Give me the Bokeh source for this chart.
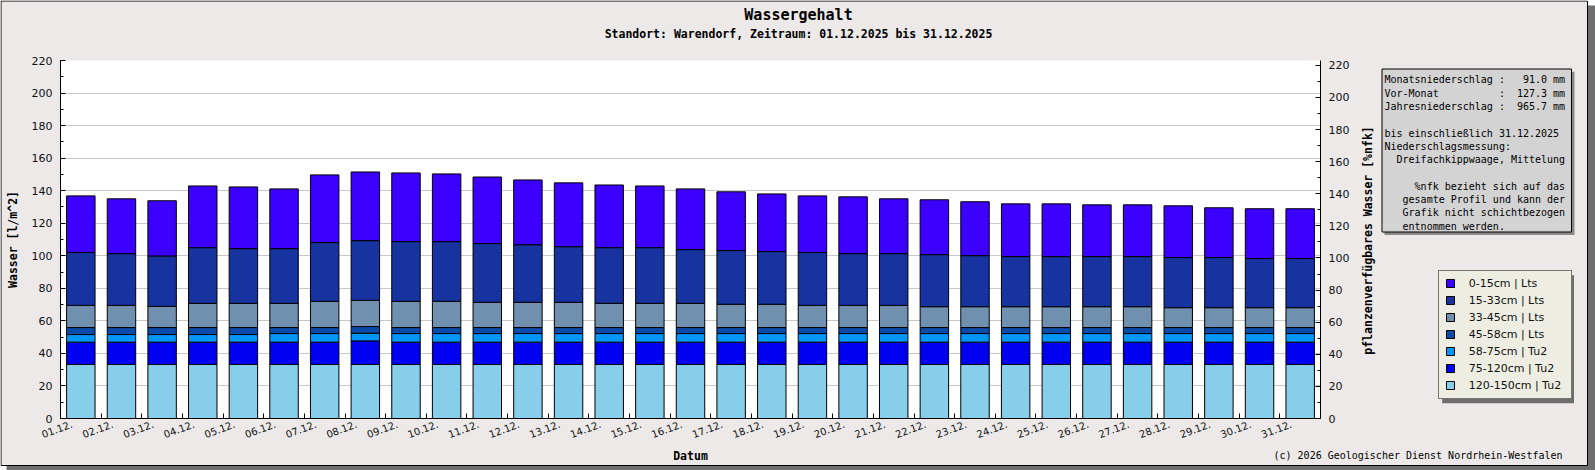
import re
from math import pi
from bokeh.plotting import figure
from bokeh.models import (ColumnDataSource, Range1d, LinearAxis, FixedTicker,
                          SingleIntervalTicker, Legend, LegendItem, Label, BoxAnnotation)
from bokeh.embed import file_html
from bokeh.resources import INLINE

# ---------------- data ----------------
dates = ["01.12.", "02.12.", "03.12.", "04.12.", "05.12.", "06.12.", "07.12.", "08.12.",
         "09.12.", "10.12.", "11.12.", "12.12.", "13.12.", "14.12.", "15.12.", "16.12.",
         "17.12.", "18.12.", "19.12.", "20.12.", "21.12.", "22.12.", "23.12.", "24.12.",
         "25.12.", "26.12.", "27.12.", "28.12.", "29.12.", "30.12.", "31.12."]

layer_names = ["0-15cm | Lts", "15-33cm | Lts", "33-45cm | Lts", "45-58cm | Lts",
               "58-75cm | Tu2", "75-120cm | Tu2", "120-150cm | Tu2"]
layer_colors = ["#3C00FF", "#1633A0", "#7090B0", "#0A4AA8", "#0096FF", "#0000F0", "#87CEEB"]

w_0_15 = [34.8, 33.7, 33.9, 37.9, 37.9, 36.7, 41.6, 42.2, 42.2, 41.6, 40.9, 39.8, 39.2, 38.5,
          37.9, 37.3, 36.1, 35.4, 34.8, 34.9, 33.7, 33.7, 33.1, 32.4, 32.4, 31.8, 31.8, 31.8,
          30.6, 30.6, 30.6]
w_15_33 = [32.5, 31.8, 31.0, 34.2, 33.6, 33.6, 36.1, 36.7, 36.7, 36.7, 36.1, 35.4, 34.2, 34.2,
           34.2, 33.0, 33.0, 32.4, 32.5, 31.8, 31.8, 32.0, 31.4, 30.8, 30.8, 30.8, 30.8, 30.8,
           30.8, 30.2, 30.2]
w_33_45 = [13.6, 13.6, 13.0, 14.9, 14.9, 14.9, 16.1, 16.1, 16.1, 16.1, 15.5, 15.5, 15.5, 14.9,
           14.9, 14.9, 14.3, 14.3, 13.6, 13.6, 13.6, 12.8, 12.8, 12.8, 12.8, 12.8, 12.8, 12.2,
           12.2, 12.2, 12.2]
w_45_58 = [4.3, 4.3, 4.3, 4.3, 4.3, 3.7, 3.7, 4.1, 3.7, 3.7, 3.7, 3.7, 3.7, 3.7, 3.7, 3.7,
           3.7, 3.7, 3.7, 3.7, 3.7, 3.7, 3.7, 3.7, 3.7, 3.7, 3.7, 3.7, 3.7, 3.7, 3.7]
w_58_75 = [4.7, 4.7, 4.7, 4.7, 4.7, 5.3, 5.3, 4.7, 5.3, 5.3, 5.3, 5.3, 5.3, 5.3, 5.3, 5.3,
           5.3, 5.3, 5.3, 5.3, 5.3, 5.3, 5.3, 5.3, 5.3, 5.3, 5.3, 5.3, 5.3, 5.3, 5.3]
w_75_120 = [13.7, 13.7, 13.7, 13.7, 13.7, 13.7, 13.7, 14.5, 13.7, 13.7, 13.7, 13.7, 13.7, 13.7,
            13.7, 13.7, 13.7, 13.7, 13.7, 13.7, 13.7, 13.7, 13.7, 13.7, 13.7, 13.7, 13.7, 13.7,
            13.7, 13.7, 13.7]
w_120_150 = [33.2, 33.2, 33.2, 33.2, 33.2, 33.2, 33.2, 33.2, 33.2, 33.2, 33.2, 33.2, 33.2, 33.2,
             33.2, 33.2, 33.2, 33.2, 33.2, 33.2, 33.2, 33.2, 33.2, 33.2, 33.2, 33.2, 33.2, 33.2,
             33.2, 33.2, 33.2]

info_lines = [
    "Monatsniederschlag :   91.0 mm",
    "Vor-Monat          :  127.3 mm",
    "Jahresniederschlag :  965.7 mm",
    "",
    "bis einschließlich 31.12.2025",
    "Niederschlagsmessung:",
    "  Dreifachkippwaage, Mittelung",
    "",
    "     %nfk bezieht sich auf das",
    "   gesamte Profil und kann der",
    "   Grafik nicht schichtbezogen",
    "   entnommen werden.",
]

title_text = "Wassergehalt"
subtitle_text = "Standort: Warendorf, Zeitraum: 01.12.2025 bis 31.12.2025"
copyright_text = "(c) 2026 Geologischer Dienst Nordrhein-Westfalen"
y_left_label = "Wasser [l/m^2]"
y_right_label = "pflanzenverfügbares Wasser [%nfk]"
x_label = "Datum"

MONO = "DejaVu Sans Mono"
SANS = "DejaVu Sans"
BG = "#ECE9E8"

keys = ["l0", "l1", "l2", "l3", "l4", "l5", "l6"]
series = [w_0_15, w_15_33, w_33_45, w_45_58, w_58_75, w_75_120, w_120_150]
data = {"x": [i + 1 for i in range(len(dates))], "date": dates}
for k, s in zip(keys, series):
    data[k] = s
src = ColumnDataSource(data)

# ---------------- background / decoration layer (pixel coordinates) ----------------
W, H = 1595, 470
bg = figure(width=W, height=H, x_range=Range1d(0, W), y_range=Range1d(H, 0),
            x_axis_type=None, y_axis_type=None, output_backend="svg",
            toolbar_location=None, min_border=0, background_fill_color="white",
            border_fill_color="white", outline_line_color=None)


def box(l, r, t, b, fill, line=None):
    bg.add_layout(BoxAnnotation(left=l, right=r, top=t, bottom=b,
                                fill_color=fill, fill_alpha=1.0,
                                line_color=line, line_alpha=1.0 if line else 0.0,
                                line_width=1))


def lab(x, y, text, size, bold=False, align="left", angle=0.0, font=MONO):
    bg.add_layout(Label(x=x, y=y, text=text, text_font=font, text_font_size=size,
                        text_font_style="bold" if bold else "normal",
                        text_align=align, text_baseline="middle", text_color="black",
                        angle=angle))


box(6, 1595, 5, 470, "#6E6E6E")                 # outer drop shadow
box(0.5, 1587, 0.5, 465, BG, "black")          # outer frame
box(1384, 1574, 71.3, 234.5, "#8A8A8A")         # info box shadow
box(1381.5, 1571, 68.5, 231.5, "#D3D3D3", "black")
box(1441.7, 1573.5, 274.7, 402.7, "#6E6E6E")    # legend shadow

lab(798, 14, title_text, "15px", bold=True, align="center")
lab(798, 33.3, subtitle_text, "11.5px", bold=True, align="center")
lab(1562, 455, copyright_text, "10px", align="right")
lab(1367, 240, y_right_label, "11.5px", bold=True, align="center", angle=pi / 2)
for k, line in enumerate(info_lines):
    if not line:
        continue
    txt = re.sub(r" {2,}", lambda m: "\u00a0" * len(m.group()), line)
    lab(1384, 79.3 + 13.3 * k, txt, "10px")

# legend keys: hidden renderers on the same data, only their styles show in the legend
swatches = [bg.vbar(x="x", top=k, width=0.7, source=src, fill_color=c, line_color="black",
                    line_width=1, visible=False)
            for k, c in zip(keys, layer_colors)]
legend = Legend(items=[LegendItem(label=n, renderers=[r]) for n, r in zip(layer_names, swatches)],
                location=(1437.7, H - 398.7), margin=0, padding=6, spacing=4,
                glyph_width=10, glyph_height=10, label_standoff=14, label_width=96,
                label_height=13, label_text_font=SANS, label_text_font_size="11px",
                label_text_color="#111111", background_fill_color="#EDEDE1",
                background_fill_alpha=1.0, border_line_color="black", border_line_width=1,
                inactive_fill_alpha=0.0)
bg.add_layout(legend)

# ---------------- main chart (transparent border, laid over the decoration layer) ----------------
p = figure(width=1587, height=465, x_range=Range1d(0.5, len(dates) + 0.5),
           y_range=Range1d(0, 220), output_backend="svg", toolbar_location=None,
           min_border_left=60, min_border_right=267, min_border_top=60, min_border_bottom=45,
           background_fill_color="white", border_fill_alpha=0.0, outline_line_color=None,
           styles={"position": "absolute", "top": "0px", "left": "0px", "z-index": "2"})

stack_keys = keys[::-1]            # bottom (120-150) to top (0-15)
stack_colors = layer_colors[::-1]
rends = p.vbar_stack(stack_keys, x="x", width=0.7, source=src,
                     fill_color=stack_colors, line_color="black", line_width=1)

# x axis
label_pos = [i + 1 - 0.22 for i in range(len(dates))]
bounds = [i + 1.5 for i in range(len(dates) - 1)]
xa = p.xaxis[0]
xa.ticker = FixedTicker(ticks=label_pos, minor_ticks=bounds)
xa.major_label_overrides = {pos: d for pos, d in zip(label_pos, dates)}
xa.major_label_orientation = 0.35
xa.major_tick_in = 0
xa.major_tick_out = 0
xa.minor_tick_in = 5
xa.minor_tick_out = 0
xa.minor_tick_line_color = "black"
xa.axis_line_color = "black"
xa.major_label_text_font = SANS
xa.major_label_text_font_size = "10px"
xa.major_label_text_color = "#111111"
xa.major_label_standoff = 5
xa.axis_label = x_label
xa.axis_label_text_font = MONO
xa.axis_label_text_font_style = "bold"
xa.axis_label_text_font_size = "11.5px"
xa.axis_label_text_color = "black"
xa.axis_label_standoff = 4
p.xgrid.visible = False

# left y axis
ya = p.yaxis[0]
ya.ticker = SingleIntervalTicker(interval=20, num_minor_ticks=2)
ya.major_tick_in = 5
ya.major_tick_out = 0
ya.minor_tick_in = 3
ya.minor_tick_out = 0
ya.axis_line_color = "black"
ya.major_tick_line_color = "black"
ya.minor_tick_line_color = "black"
ya.major_label_text_font = SANS
ya.major_label_text_font_size = "11px"
ya.major_label_text_color = "#111111"
ya.major_label_standoff = 8
ya.axis_label = y_left_label
ya.axis_label_text_font = MONO
ya.axis_label_text_font_style = "bold"
ya.axis_label_text_font_size = "11.5px"
ya.axis_label_text_color = "black"
ya.axis_label_standoff = 9
p.ygrid.ticker = SingleIntervalTicker(interval=20)
p.ygrid.grid_line_color = "#C8C8C8"

# right y axis
p.extra_y_ranges = {"nfk": Range1d(0, 223)}
ra = LinearAxis(y_range_name="nfk", ticker=SingleIntervalTicker(interval=20, num_minor_ticks=2))
ra.major_tick_in = 5
ra.major_tick_out = 0
ra.minor_tick_in = 3
ra.minor_tick_out = 0
ra.axis_line_color = "black"
ra.major_label_text_font = SANS
ra.major_label_text_font_size = "11px"
ra.major_label_text_color = "#111111"
ra.major_label_standoff = 8
p.add_layout(ra, "right")

open("out.html", "w").write(file_html([bg, p], INLINE))
